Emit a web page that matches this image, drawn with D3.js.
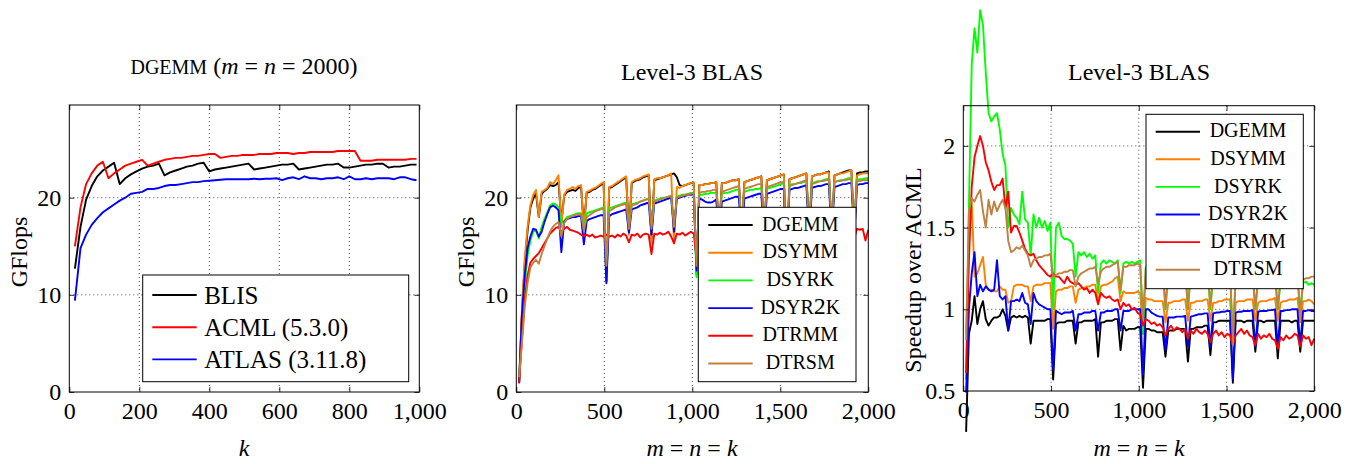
<!DOCTYPE html>
<html>
<head>
<meta charset="utf-8">
<script src="https://d3js.org/d3.v7.min.js"></script>
<style>
  body { margin: 0; background: #fff; }
  svg, svg text { font-family: "Liberation Serif", "Times New Roman", "DejaVu Serif", serif; }
  text { white-space: pre; }
</style>
</head>
<body>
<svg width="1359" height="464" font-family="Liberation Serif, serif"></svg>
<script>
// ---------------- DATA ----------------
// left panel: k = 16, 32, ..., 992
const kLeft = d3.range(16, 993, 16);
const leftNames = ['BLIS', 'ACML (5.3.0)', 'ATLAS (3.11.8)'];
const blis = [12.7,17.0,19.8,21.2,22.2,22.8,23.2,23.6, 21.4,22.0,22.4,22.7,23.0,23.2,23.3,23.5,
  22.3,22.6,22.8,23.0,23.2,23.3,23.5,23.6, 22.7,22.9,23.0,23.1,23.2,23.3,23.4,23.5,
  22.9,23.0,23.1,23.2,23.3,23.4,23.4,23.5, 22.9,23.0,23.1,23.2,23.3,23.4,23.4,23.5,
  23.1,23.1,23.2,23.3,23.4,23.4,23.5,23.5, 23.1,23.2,23.2,23.3,23.4,23.4];
const acml = [15.0,19.0,21.4,22.5,23.3,23.7,22.0,22.5, 22.9,23.3,23.5,23.7,23.9,23.3,23.5,23.7,
  23.9,24.0,24.1,24.1,24.2,24.3,24.3,24.4, 24.5,24.5,24.1,24.2,24.3,24.3,24.4,24.4,
  24.4,24.5,24.5,24.5,24.6,24.6,24.6,24.5, 24.6,24.6,24.7,24.7,24.7,24.7,24.7,24.8,
  24.8,24.8,24.8,23.8,23.8,23.8,23.9,23.9, 23.9,23.9,23.9,23.9,24.0,24.0];
const atlas = [9.4,14.8,16.2,17.2,17.9,18.5,18.9,19.3, 19.7,20.0,20.4,20.5,20.6,20.9,20.9,21.0,
  21.2,21.3,21.3,21.4,21.5,21.6,21.6,21.7, 21.75,21.8,21.85,21.9,21.9,21.9,21.9,21.9,
  21.95,21.9,21.95,21.95,22.0,21.8,22.0,22.1, 21.9,22.2,22.0,22.0,21.9,22.0,22.0,22.1,
  21.9,22.2,21.9,21.9,22.0,21.9,22.0,22.0, 22.0,21.9,22.1,22.1,21.9,21.8];

// middle and right panels: m = n = k = 16, 32, ..., 2000
const kBlas = d3.range(16, 2001, 16);
const blasNames = ['DGEMM', 'DSYMM', 'DSYRK', 'DSYR2K', 'DTRMM', 'DTRSM'];

// GFlops
const gfDgemm = [
  1.0,8.0,13.2,16.6,19.0,19.9,20.4,18.0,
  20.4,20.7,20.9,21.3,21.2,21.3,21.6,17.5,
  20.2,20.6,20.7,20.8,20.7,21.0,21.1,17.0,
  20.5,20.6,20.8,20.9,21.1,21.3,21.5,11.4,
  21.0,21.1,21.3,21.5,21.7,21.9,22.1,16.4,
  21.5,21.7,21.8,21.9,22.1,22.2,22.3,15.8,
  21.8,21.9,22.0,22.1,22.2,22.3,22.4,22.5,
  22.1,21.3,21.2,21.3,21.4,21.5,21.5,12.2,
  21.3,21.3,21.4,21.4,21.5,21.5,21.6,16.5,
  21.5,21.5,21.6,21.7,21.8,21.8,21.9,16.5,
  21.6,21.7,21.8,21.9,22.0,22.1,22.2,16.5,
  21.8,21.9,22.0,22.1,22.2,22.3,22.4,13.5,
  21.9,22.0,22.1,22.2,22.3,22.4,22.5,16.5,
  22.2,22.3,22.4,22.4,22.5,22.6,22.7,16.5,
  22.3,22.4,22.5,22.6,22.7,22.8,22.8,16.5,
  22.5,22.6,22.6,22.7,22.7];
const gfDsymm = [
  1.0,8.5,13.8,17.0,19.2,20.3,20.8,18.0,
  20.6,20.8,21.0,21.6,21.4,21.8,22.3,17.0,
  20.3,20.8,20.9,21.1,20.9,21.2,21.3,16.7,
  20.6,20.7,20.9,21.0,21.2,21.4,21.6,11.6,
  21.1,21.2,21.4,21.6,21.8,22.0,22.2,16.2,
  21.6,21.8,21.9,22.0,22.2,22.3,22.4,15.4,
  21.9,22.0,22.0,22.1,22.2,22.3,22.5,15.3,
  21.1,21.0,21.2,21.3,21.4,21.5,21.6,12.0,
  21.3,21.3,21.4,21.4,21.5,21.5,21.6,16.0,
  21.5,21.5,21.6,21.7,21.8,21.8,21.9,16.0,
  21.6,21.7,21.8,21.9,22.0,22.1,22.2,16.0,
  21.8,21.9,22.0,22.1,22.2,22.3,22.4,13.0,
  21.9,22.0,22.1,22.2,22.3,22.4,22.5,16.0,
  22.2,22.3,22.4,22.4,22.5,22.6,22.6,16.0,
  22.3,22.4,22.5,22.5,22.6,22.7,22.8,16.0,
  22.3,22.4,22.5,22.5,22.5];
const gfDsyrk = [
  1.0,6.5,11.0,14.0,15.6,16.5,16.6,15.8,
  17.0,17.8,18.5,19.2,19.4,19.3,19.0,17.4,
  17.6,18.0,18.1,18.2,18.3,18.4,18.4,17.0,
  18.4,18.5,18.6,18.7,18.8,18.9,19.0,11.8,
  18.9,19.0,19.1,19.2,19.3,19.4,19.5,16.8,
  19.3,19.4,19.5,19.6,19.7,19.8,19.9,17.0,
  19.7,19.8,19.9,20.0,20.0,20.1,20.1,17.0,
  20.1,20.2,20.3,20.3,20.4,20.5,20.5,11.8,
  20.3,20.3,20.4,20.4,20.5,20.5,20.5,17.0,
  20.4,20.5,20.5,20.6,20.7,20.8,20.8,17.0,
  20.6,20.7,20.8,20.8,20.9,20.9,21.0,17.0,
  20.9,21.0,21.1,21.2,21.3,21.4,21.5,14.0,
  21.3,21.4,21.4,21.5,21.5,21.6,21.7,17.0,
  21.5,21.6,21.7,21.7,21.8,21.9,21.9,17.0,
  21.6,21.7,21.8,21.8,21.9,22.0,22.0,17.0,
  21.8,21.9,21.9,22.0,22.0];
const gfDsyr2k = [
  0.9,8.0,12.0,14.8,16.0,16.8,16.7,16.0,
  16.5,17.5,18.3,19.0,19.2,19.0,18.7,14.4,
  17.5,17.8,17.9,18.0,18.0,18.1,18.1,15.2,
  17.6,17.8,17.9,18.0,18.1,18.2,18.2,11.2,
  18.1,18.3,18.4,18.5,18.6,18.7,18.8,16.4,
  18.8,18.9,19.0,19.2,19.3,19.4,19.5,16.2,
  19.4,19.5,19.6,19.7,19.8,19.9,20.0,16.5,
  19.9,20.0,20.1,20.2,20.3,20.3,20.4,12.5,
  19.9,19.8,19.6,19.5,19.5,19.6,19.8,16.0,
  19.6,19.7,19.8,19.9,20.0,20.1,20.1,16.0,
  19.9,20.0,20.1,20.2,20.3,20.4,20.4,16.0,
  20.4,20.5,20.6,20.7,20.8,20.9,20.9,13.0,
  20.8,20.9,21.0,21.0,21.1,21.2,21.3,16.0,
  21.0,21.1,21.2,21.2,21.3,21.4,21.4,16.0,
  21.1,21.2,21.3,21.4,21.4,21.5,21.5,16.0,
  21.3,21.4,21.4,21.5,21.5];
const gfDtrmm = [
  0.9,5.5,9.5,12.0,13.3,13.7,14.0,14.3,
  14.8,15.3,15.8,16.3,16.6,16.9,17.0,16.5,
  16.8,17.0,16.7,16.6,16.5,16.4,16.2,16.0,
  16.2,16.0,16.2,15.9,16.0,16.1,16.0,16.2,
  16.0,16.1,15.9,16.2,16.0,16.3,16.1,15.4,
  16.2,16.1,16.3,15.9,16.2,16.3,16.2,14.2,
  16.3,16.2,16.4,16.2,16.3,16.5,16.0,15.3,
  16.3,16.2,16.4,16.1,16.3,16.5,16.3,14.0,
  16.3,16.4,16.2,16.5,16.3,16.4,16.5,15.5,
  16.4,16.3,16.5,16.4,16.6,16.4,16.5,15.6,
  16.5,16.4,16.6,16.5,16.4,16.6,16.5,15.6,
  16.5,16.6,16.4,16.7,16.5,16.6,16.7,15.0,
  16.6,16.5,16.7,16.6,16.5,16.7,16.6,15.7,
  16.7,16.6,16.8,16.6,16.7,16.8,16.7,15.8,
  16.7,16.8,16.6,16.8,16.7,16.8,16.9,15.8,
  16.8,16.7,16.8,15.6,16.7];
const gfDtrsm = [
  1.5,5.0,8.8,11.2,12.8,13.3,13.6,13.2,
  14.2,15.0,15.8,16.5,17.0,17.3,17.5,16.0,
  17.4,17.8,18.0,18.1,18.2,18.3,18.3,16.6,
  18.0,18.2,18.4,18.6,18.7,18.8,18.9,13.0,
  18.6,18.8,19.0,19.1,19.2,19.3,19.4,16.8,
  19.2,19.3,19.4,19.6,19.7,19.8,19.9,16.8,
  19.6,19.7,19.8,19.9,20.0,20.1,20.2,17.0,
  20.0,20.1,20.2,20.3,20.3,20.4,20.5,13.0,
  20.5,20.6,20.6,20.7,20.7,20.8,20.8,17.0,
  20.6,20.7,20.8,20.9,21.0,21.1,21.2,17.0,
  20.9,21.0,21.1,21.2,21.3,21.4,21.4,17.0,
  21.1,21.2,21.3,21.4,21.5,21.6,21.6,14.0,
  21.2,21.3,21.4,21.5,21.6,21.7,21.8,17.0,
  21.4,21.5,21.6,21.7,21.7,21.8,21.9,17.0,
  21.6,21.7,21.7,21.8,21.8,21.9,21.9,17.0,
  21.7,21.7,21.8,21.8,21.8];

// speedup over ACML
const spDgemm = [
  0.25,0.85,0.93,1.08,0.91,1.0,1.05,0.94,
  0.9,0.93,0.95,0.95,0.96,1.0,0.96,0.87,
  0.95,0.96,0.95,0.96,0.95,0.96,0.95,0.79,
  0.93,0.93,0.93,0.93,0.93,0.94,0.94,0.57,
  0.91,0.92,0.92,0.92,0.93,0.93,0.93,0.79,
  0.92,0.92,0.93,0.93,0.93,0.93,0.94,0.71,
  0.92,0.92,0.93,0.93,0.93,0.94,0.94,0.75,
  0.9,0.87,0.88,0.88,0.88,0.89,0.89,0.52,
  0.88,0.88,0.87,0.87,0.86,0.86,0.86,0.71,
  0.87,0.87,0.87,0.88,0.88,0.88,0.88,0.68,
  0.88,0.88,0.89,0.89,0.89,0.9,0.9,0.72,
  0.92,0.92,0.93,0.93,0.93,0.93,0.93,0.55,
  0.93,0.93,0.93,0.92,0.93,0.93,0.93,0.74,
  0.93,0.93,0.92,0.93,0.93,0.93,0.93,0.7,
  0.93,0.93,0.93,0.93,0.92,0.93,0.93,0.74,
  0.93,0.93,0.93,0.93,0.93];
const spDsymm = [
  0.85,1.4,1.67,1.2,1.22,1.27,1.32,1.15,
  1.12,1.12,1.11,1.11,1.14,1.12,1.12,1.04,
  1.05,1.14,1.15,1.15,1.15,1.14,1.14,1.05,
  1.14,1.15,1.15,1.15,1.16,1.16,1.16,0.88,
  1.11,1.12,1.12,1.13,1.13,1.14,1.14,1.04,
  1.12,1.13,1.13,1.14,1.14,1.15,1.15,1.04,
  1.14,1.15,1.15,1.16,1.17,1.19,1.2,1.05,
  1.11,1.1,1.1,1.1,1.1,1.11,1.1,0.85,
  1.07,1.06,1.06,1.05,1.05,1.05,1.05,0.92,
  1.04,1.04,1.05,1.05,1.05,1.06,1.06,0.93,
  1.04,1.04,1.05,1.05,1.05,1.06,1.06,0.93,
  1.04,1.04,1.05,1.05,1.06,1.06,1.06,0.8,
  1.04,1.05,1.05,1.05,1.06,1.06,1.06,0.93,
  1.04,1.05,1.05,1.05,1.06,1.06,1.07,0.93,
  1.04,1.05,1.05,1.06,1.06,1.06,1.07,0.92,
  1.05,1.05,1.06,1.05,1.03];
const spDsyrk = [
  0.57,1.63,2.5,2.72,2.57,2.83,2.74,2.45,
  2.2,2.15,2.18,2.2,2.1,1.95,1.88,1.5,
  1.62,1.58,1.56,1.52,1.72,1.55,1.53,1.33,
  1.58,1.5,1.56,1.5,1.54,1.48,1.53,1.0,
  1.5,1.53,1.45,1.43,1.43,1.42,1.4,1.2,
  1.35,1.33,1.35,1.32,1.34,1.31,1.33,1.1,
  1.28,1.3,1.28,1.3,1.29,1.28,1.3,1.1,
  1.28,1.29,1.28,1.29,1.28,1.29,1.3,0.85,
  1.26,1.26,1.25,1.26,1.25,1.26,1.26,1.0,
  1.24,1.25,1.24,1.25,1.24,1.25,1.25,1.0,
  1.23,1.24,1.23,1.24,1.23,1.24,1.24,1.0,
  1.22,1.23,1.22,1.23,1.22,1.23,1.23,0.8,
  1.21,1.22,1.21,1.22,1.21,1.22,1.22,1.0,
  1.19,1.2,1.19,1.2,1.19,1.2,1.2,1.0,
  1.18,1.19,1.18,1.19,1.18,1.19,1.19,0.98,
  1.16,1.17,1.15,1.16,1.15];
const spDsyr2k = [
  0.49,1.0,1.22,1.35,1.08,1.15,1.11,1.14,
  1.12,1.11,1.12,1.3,1.08,1.06,1.08,0.87,
  1.05,1.05,1.06,1.05,1.1,1.04,1.03,0.91,
  1.1,1.05,1.03,1.02,1.01,1.0,1.0,0.63,
  0.99,0.98,0.97,0.98,0.98,0.98,0.99,0.87,
  0.97,0.97,0.98,0.98,0.98,0.99,0.99,0.87,
  0.98,0.98,0.99,0.99,0.99,1.0,1.0,0.87,
  0.99,0.99,0.99,1.0,1.0,1.0,1.0,0.6,
  1.0,1.0,0.98,0.97,0.96,0.955,0.955,0.75,
  0.95,0.95,0.95,0.955,0.955,0.955,0.96,0.77,
  0.955,0.96,0.965,0.97,0.97,0.975,0.975,0.77,
  0.975,0.98,0.98,0.985,0.985,0.99,0.99,0.57,
  0.98,0.985,0.985,0.99,0.99,0.99,0.995,0.77,
  0.985,0.99,0.99,0.99,0.995,0.995,1.0,0.77,
  0.99,0.99,0.995,0.995,1.0,1.0,1.0,0.78,
  0.99,0.99,0.995,0.99,0.99];
const spDtrmm = [
  0.61,1.3,1.75,1.93,2.0,2.06,2.0,1.9,
  1.85,1.78,1.73,1.76,1.76,1.8,1.62,1.72,
  1.47,1.51,1.51,1.47,1.42,1.37,1.34,1.33,
  1.34,1.3,1.27,1.25,1.23,1.21,1.2,1.22,
  1.2,1.2,1.18,1.16,1.2,1.17,1.16,1.15,
  1.16,1.14,1.12,1.13,1.1,1.12,1.1,1.03,
  1.1,1.08,1.07,1.08,1.06,1.05,1.06,1.0,
  1.04,1.02,1.03,1.0,1.01,0.98,0.97,0.9,
  0.94,0.93,0.91,0.92,0.9,0.91,0.89,0.84,
  0.88,0.9,0.87,0.89,0.88,0.86,0.88,0.82,
  0.87,0.85,0.88,0.86,0.85,0.87,0.85,0.8,
  0.85,0.87,0.84,0.86,0.83,0.85,0.84,0.78,
  0.84,0.86,0.88,0.85,0.87,0.84,0.83,0.78,
  0.85,0.82,0.84,0.83,0.85,0.82,0.81,0.76,
  0.83,0.81,0.84,0.82,0.83,0.85,0.84,0.77,
  0.84,0.82,0.83,0.78,0.82];
const spDtrsm = [
  0.81,1.6,1.68,1.66,1.7,1.73,1.6,1.5,
  1.67,1.58,1.66,1.6,1.64,1.67,1.62,1.42,
  1.35,1.36,1.38,1.37,1.39,1.36,1.33,1.26,
  1.3,1.31,1.32,1.32,1.33,1.33,1.34,1.2,
  1.21,1.22,1.22,1.23,1.23,1.24,1.24,1.14,
  1.2,1.22,1.23,1.24,1.25,1.25,1.26,1.16,
  1.23,1.25,1.26,1.26,1.27,1.28,1.29,1.12,
  1.26,1.26,1.27,1.27,1.27,1.28,1.27,0.95,
  1.25,1.25,1.26,1.26,1.26,1.27,1.27,1.0,
  1.24,1.25,1.25,1.26,1.26,1.26,1.27,1.0,
  1.23,1.24,1.24,1.25,1.25,1.25,1.26,1.02,
  1.22,1.23,1.23,1.24,1.24,1.25,1.25,0.78,
  1.21,1.22,1.22,1.23,1.23,1.24,1.24,1.0,
  1.2,1.21,1.21,1.22,1.22,1.23,1.23,1.0,
  1.19,1.2,1.2,1.21,1.21,1.22,1.22,0.97,
  1.18,1.19,1.19,1.2,1.2];

const leftColors = ['#000000', '#ff0000', '#0000ff'];
const blasColors = ['#000000', '#ff8000', '#00ff00', '#0000ff', '#ff0000', '#bf8040'];

// ---------------- DRAWING ----------------
const FONT = '"Liberation Serif", "Times New Roman", serif';
const svg = d3.select('svg');
svg.append('rect').attr('width', 1359).attr('height', 464).attr('fill', '#fff');

function drawPanel(p) {
  const g = svg.append('g');
  const x = d3.scaleLinear().domain(p.xDomain).range([p.left, p.right]);
  const y = d3.scaleLinear().domain(p.yDomain).range([p.bottom, p.top]);

  // dotted grid
  const grid = g.append('g').attr('stroke', '#333').attr('stroke-width', 0.9)
    .attr('stroke-dasharray', '1,3');
  grid.selectAll('.vg').data(p.xTicks.filter(t => t > p.xDomain[0] && t < p.xDomain[1]))
    .join('line')
    .attr('x1', d => x(d)).attr('x2', d => x(d))
    .attr('y1', p.top).attr('y2', p.bottom);
  grid.selectAll('.hg').data(p.yTicks.filter(t => t > p.yDomain[0] && t < p.yDomain[1]))
    .join('line')
    .attr('y1', d => y(d)).attr('y2', d => y(d))
    .attr('x1', p.left).attr('x2', p.right);

  // series
  const line = d3.line().x((d, i) => x(p.ks[i])).y(d => y(d));
  p.series.forEach((s, i) => {
    g.append('path')
      .attr('d', line(s))
      .attr('fill', 'none')
      .attr('stroke', p.colors[i])
      .attr('stroke-width', 1.9)
      .attr('stroke-linejoin', 'round');
  });

  // axes, ticks pointing inward
  g.append('g').attr('transform', `translate(0,${p.bottom})`)
    .call(d3.axisBottom(x).tickValues(p.xTicks).tickSize(-5).tickPadding(10).tickFormat(p.xFmt));
  g.append('g').attr('transform', `translate(${p.left},0)`)
    .call(d3.axisLeft(y).tickValues(p.yTicks).tickSize(-5).tickPadding(8).tickFormat(p.yFmt));
  g.append('g').attr('transform', `translate(0,${p.top})`)
    .call(d3.axisTop(x).tickValues(p.xTicks).tickSize(-5).tickFormat(''));
  g.append('g').attr('transform', `translate(${p.right},0)`)
    .call(d3.axisRight(y).tickValues(p.yTicks).tickSize(-5).tickFormat(''));
  g.selectAll('.domain').remove();
  g.selectAll('.tick line').attr('stroke', '#000').attr('stroke-width', 0.8);
  g.selectAll('g').attr('font-family', FONT);
  g.selectAll('.tick text').attr('font-size', 24).attr('fill', '#000')
    .attr('font-family', FONT).style('font-family', FONT);

  // frame
  g.append('rect')
    .attr('x', p.left).attr('y', p.top)
    .attr('width', p.right - p.left).attr('height', p.bottom - p.top)
    .attr('fill', 'none').attr('stroke', '#000').attr('stroke-width', 1);

  return g;
}

function scLabel(textSel, label) {
  // small caps look: letters smaller, digits full size
  label.split(/(\d+)/).filter(s => s).forEach(s => {
    textSel.append('tspan').text(s).attr('font-size', /\d/.test(s) ? 24 : 20);
  });
}

function drawLegend(g, box, names, colors, smallCaps) {
  const lg = g.append('g');
  lg.append('rect')
    .attr('x', box.x).attr('y', box.y).attr('width', box.w).attr('height', box.h)
    .attr('fill', '#fff').attr('stroke', '#000').attr('stroke-width', 1);
  names.forEach((n, i) => {
    const cy = box.y + box.first + i * box.step;
    lg.append('line')
      .attr('x1', box.x + box.lx1).attr('x2', box.x + box.lx2)
      .attr('y1', cy).attr('y2', cy)
      .attr('stroke', colors[i]).attr('stroke-width', 1.9);
    const t = lg.append('text').attr('y', cy).attr('dy', '0.35em').attr('fill', '#000')
      .style('font-family', FONT);
    if (smallCaps) {
      t.attr('x', box.x + box.tx).attr('text-anchor', 'middle');
      scLabel(t, n);
    } else {
      t.attr('x', box.x + box.tx).attr('font-size', 25).text(n);
    }
  });
}

function italicMath(textSel, parts) {
  parts.forEach(pt => {
    const ts = textSel.append('tspan').text(pt.t).attr('font-size', pt.size || 24);
    if (pt.it) ts.attr('font-style', 'italic');
  });
}

function label(x, y, rot) {
  const t = svg.append('text').style('font-family', FONT).attr('fill', '#000')
    .attr('text-anchor', 'middle');
  if (rot) t.attr('transform', `translate(${x},${y}) rotate(-90)`);
  else t.attr('x', x).attr('y', y);
  return t;
}

// panel 1
const g1 = drawPanel({
  left: 69.3, right: 419.3, top: 105, bottom: 392,
  xDomain: [0, 1000], yDomain: [0, 29.54],
  xTicks: [0, 200, 400, 600, 800, 1000], yTicks: [0, 10, 20],
  xFmt: d3.format(','), yFmt: d => d,
  ks: kLeft, series: [blis, acml, atlas], colors: leftColors
});
drawLegend(g1, {x: 142.7, y: 275, w: 266, h: 106.7, first: 20, step: 32.2, lx1: 9.6, lx2: 54, tx: 61.5},
  leftNames, leftColors, false);

// panel 2
const g2 = drawPanel({
  left: 516.3, right: 868.3, top: 105, bottom: 392,
  xDomain: [0, 2000], yDomain: [0, 29.54],
  xTicks: [0, 500, 1000, 1500, 2000], yTicks: [0, 10, 20],
  xFmt: d3.format(','), yFmt: d => d,
  ks: kBlas, series: [gfDgemm, gfDsymm, gfDsyrk, gfDsyr2k, gfDtrmm, gfDtrsm], colors: blasColors
});
drawLegend(g2, {x: 698.3, y: 207.3, w: 157.7, h: 174.4, first: 17.7, step: 27.7, lx1: 10, lx2: 54.4, tx: 102},
  blasNames, blasColors, true);

// panel 3
const g3 = drawPanel({
  left: 963.3, right: 1314.3, top: 105.7, bottom: 391,
  xDomain: [0, 2000], yDomain: [0.5, 2.246],
  xTicks: [0, 500, 1000, 1500, 2000], yTicks: [0.5, 1, 1.5, 2],
  xFmt: d3.format(','), yFmt: d => String(d),
  ks: kBlas, series: [spDgemm, spDsymm, spDsyrk, spDsyr2k, spDtrmm, spDtrsm], colors: blasColors
});
drawLegend(g3, {x: 1146, y: 114.3, w: 157.3, h: 174.4, first: 17.4, step: 27.6, lx1: 9.7, lx2: 54, tx: 102},
  blasNames, blasColors, true);

// titles
const t1 = label(244, 74);
scLabel(t1, 'DGEMM');
italicMath(t1, [{t: ' ('}, {t: 'm', it: true}, {t: ' = '}, {t: 'n', it: true}, {t: ' = 2000)'}]);
label(692, 80).attr('font-size', 24).text('Level-3 BLAS');
label(1139, 80).attr('font-size', 24).text('Level-3 BLAS');

// x labels
italicMath(label(244, 456), [{t: 'k', it: true}]);
[692, 1139].forEach(cx => {
  italicMath(label(cx, 456), [{t: 'm', it: true}, {t: ' = '}, {t: 'n', it: true}, {t: ' = '}, {t: 'k', it: true}]);
});

// y labels
label(27, 252, true).attr('font-size', 24).text('GFlops');
label(474, 252, true).attr('font-size', 24).text('GFlops');
label(921, 270, true).attr('font-size', 24).text('Speedup over ACML');
</script>
</body>
</html>
